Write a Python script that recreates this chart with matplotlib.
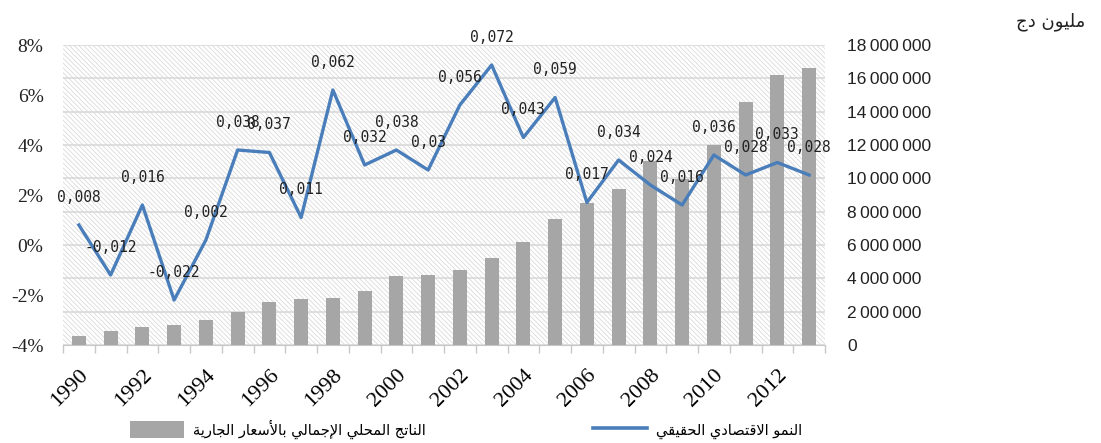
import matplotlib
matplotlib.use("Agg")
import matplotlib.pyplot as plt
from matplotlib.patches import Rectangle, Patch
from matplotlib.lines import Line2D
from matplotlib.ticker import FuncFormatter, FixedLocator, MultipleLocator
import numpy as np

# ---------------- data ----------------
years = list(range(1990, 2014))
gdp_current = [560000, 870000, 1080000, 1190000, 1490000, 2010000, 2570000, 2780000,
               2830000, 3240000, 4120000, 4230000, 4520000, 5250000, 6150000, 7560000,
               8500000, 9350000, 11040000, 9970000, 11990000, 14590000, 16210000, 16640000]
real_growth = [0.008, -0.012, 0.016, -0.022, 0.002, 0.038, 0.037, 0.011, 0.062, 0.032,
               0.038, 0.03, 0.056, 0.072, 0.043, 0.059, 0.017, 0.034, 0.024, 0.016,
               0.036, 0.028, 0.033, 0.028]
xtick_labels = [str(y) for y in years[::2]]
legend_bar = "الناتج المحلي الإجمالي بالأسعار الجارية"
legend_line = "النمو الاقتصادي الحقيقي"
unit_title = "مليون دج"

# ------------- arabic shaping (presentation forms, visual order) -------------
FORMS = {
    'ا': ('\uFE8D', '\uFE8E', None, None),
    'أ': ('\uFE83', '\uFE84', None, None),
    'إ': ('\uFE87', '\uFE88', None, None),
    'ب': ('\uFE8F', '\uFE90', '\uFE91', '\uFE92'),
    'ة': ('\uFE93', '\uFE94', None, None),
    'ت': ('\uFE95', '\uFE96', '\uFE97', '\uFE98'),
    'ج': ('\uFE9D', '\uFE9E', '\uFE9F', '\uFEA0'),
    'ح': ('\uFEA1', '\uFEA2', '\uFEA3', '\uFEA4'),
    'د': ('\uFEA9', '\uFEAA', None, None),
    'ر': ('\uFEAD', '\uFEAE', None, None),
    'س': ('\uFEB1', '\uFEB2', '\uFEB3', '\uFEB4'),
    'ص': ('\uFEB9', '\uFEBA', '\uFEBB', '\uFEBC'),
    'ع': ('\uFEC9', '\uFECA', '\uFECB', '\uFECC'),
    'ق': ('\uFED5', '\uFED6', '\uFED7', '\uFED8'),
    'ل': ('\uFEDD', '\uFEDE', '\uFEDF', '\uFEE0'),
    'م': ('\uFEE1', '\uFEE2', '\uFEE3', '\uFEE4'),
    'ن': ('\uFEE5', '\uFEE6', '\uFEE7', '\uFEE8'),
    'و': ('\uFEED', '\uFEEE', None, None),
    'ي': ('\uFEF1', '\uFEF2', '\uFEF3', '\uFEF4'),
}
LAMALEF = {'ا': ('\uFEFB', '\uFEFC'), 'أ': ('\uFEF7', '\uFEF8'), 'إ': ('\uFEF9', '\uFEFA')}


def shape(s):
    tokens = []
    i = 0
    while i < len(s):
        c = s[i]
        if c == 'ل' and i + 1 < len(s) and s[i + 1] in LAMALEF:
            tokens.append(('LA', s[i + 1]))
            i += 2
        else:
            tokens.append(('C', c))
            i += 1

    def dual(t):
        return t[0] == 'C' and t[1] in FORMS and FORMS[t[1]][2] is not None

    def arabic(t):
        return t[0] == 'LA' or t[1] in FORMS

    out = []
    for k, t in enumerate(tokens):
        prev = tokens[k - 1] if k > 0 else None
        nxt = tokens[k + 1] if k + 1 < len(tokens) else None
        jp = prev is not None and dual(prev) and arabic(t)
        if t[0] == 'LA':
            out.append(LAMALEF[t[1]][1 if jp else 0])
            continue
        c = t[1]
        if c not in FORMS:
            out.append(c)
            continue
        jn = dual(t) and nxt is not None and arabic(nxt)
        iso, fin, ini, med = FORMS[c]
        if jp and jn:
            out.append(med)
        elif jp:
            out.append(fin)
        elif jn:
            out.append(ini)
        else:
            out.append(iso)
    return ''.join(reversed(out))


# ---------------- figure ----------------
plt.rcParams['axes.unicode_minus'] = False
plt.rcParams['hatch.linewidth'] = 0.5
plt.rcParams['hatch.color'] = '#d4d4d4'

fig = plt.figure(figsize=(11.01, 4.43), dpi=100)
ax = fig.add_axes([63 / 1101, 1 - 345 / 443, 762 / 1101, 300 / 443])
ax2 = ax.twinx()

x = np.arange(len(years))

# hatched plot background
ax.set_facecolor('white')
bg = Rectangle((0, 0), 1, 1, transform=ax.transAxes, facecolor='white',
               edgecolor='#d4d4d4', hatch='\\' * 7, linewidth=0, zorder=0)
ax.add_patch(bg)

# bars (right axis)
ax.bar(x, gdp_current, width=0.44, color='#a6a6a6', zorder=3)
ax.set_ylim(0, 18000000)
ax.set_xlim(-0.5, len(years) - 0.5)
ax.yaxis.set_major_locator(MultipleLocator(2000000))
ax.yaxis.grid(True, color='#d9d9d9', linewidth=1.2, zorder=1)
ax.set_axisbelow(True)
ax.yaxis.tick_right()
ax.yaxis.set_label_position('right')
ax.yaxis.set_major_formatter(FuncFormatter(lambda v, p: f"{int(v):,}".replace(',', '\u2009')))
ax.tick_params(axis='y', length=0, pad=16, labelsize=12.5, colors='#222222')
for lab in ax.get_yticklabels():
    lab.set_fontfamily('Liberation Sans')

# x axis
ax.set_xticks(x[::2])
ax.set_xticklabels(xtick_labels, rotation=45, ha='right', rotation_mode='anchor',
                   fontsize=16, fontfamily='Liberation Serif')
ax.tick_params(axis='x', which='major', length=0, pad=15)
ax.xaxis.set_minor_locator(FixedLocator(np.arange(-0.5, len(years), 1.0)))
ax.tick_params(axis='x', which='minor', length=6, color='#c8c8c8', width=1)

for sp in ['left', 'right', 'top']:
    ax.spines[sp].set_visible(False)
    ax2.spines[sp].set_visible(False)
ax.spines['bottom'].set_color('#c8c8c8')
ax2.spines['bottom'].set_visible(False)

# line (left axis)
ax2.plot(x, real_growth, color='#4a7ebb', linewidth=2.4, zorder=5)
ax2.set_ylim(-0.04, 0.08)
ax2.yaxis.set_major_locator(MultipleLocator(0.02))
ax2.yaxis.tick_left()
ax2.yaxis.set_label_position('left')
ax2.yaxis.set_major_formatter(FuncFormatter(lambda v, p: f"{round(v * 100):d}%"))
ax2.tick_params(axis='y', length=0, pad=14, labelsize=14, colors='#222222')
for lab in ax2.get_yticklabels():
    lab.set_fontfamily('Liberation Serif')
ax2.patch.set_visible(False)

for xi, v in zip(x, real_growth):
    ax2.annotate(f"{v:g}".replace('.', ','), (xi, v), xytext=(0, 20),
                 textcoords='offset points', ha='center', va='center',
                 fontsize=10.5, fontfamily='DejaVu Sans Mono', color='#222222', zorder=6)

# legend
handles = [Patch(facecolor='#a6a6a6', edgecolor='none'),
           Line2D([], [], color='#4a7ebb', linewidth=2.6)]
fig.legend(handles, [shape(legend_bar), shape(legend_line)], loc='center',
           bbox_to_anchor=(466 / 1101, 1 - 429 / 443), ncol=2, frameon=False,
           prop={'family': 'DejaVu Sans', 'size': 10.5}, handlelength=3.7,
           handleheight=1.5, handletextpad=0.6, columnspacing=11.5)

fig.text(1085 / 1101, 1 - 22 / 443, shape(unit_title), ha='right', va='center',
         fontsize=13, fontfamily='DejaVu Sans', color='#222222')

fig.savefig('out.png', dpi=100)
